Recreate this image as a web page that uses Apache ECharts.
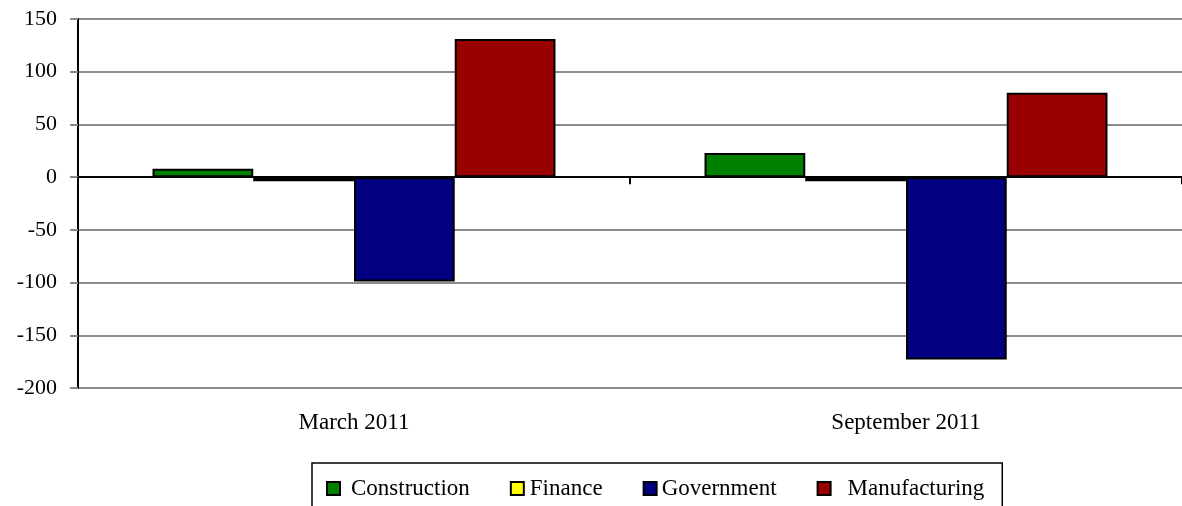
<!DOCTYPE html>
<html>
<head>
<meta charset="utf-8">
<script src="https://cdn.jsdelivr.net/npm/echarts@6/dist/echarts.min.js"></script>
<style>html,body{margin:0;padding:0;background:#fff}#c{width:1182px;height:506px}</style>
</head>
<body>
<div id="c"></div>
<script>
const categories = ['March 2011', 'September 2011'];
const construction = [8, 23];
const finance = [-4, -4];
const government = [-99, -173];
const manufacturing = [131, 80];
const seriesNames = ['Construction', 'Finance', 'Government', 'Manufacturing'];
const colors = ['#008000', '#FFFF00', '#000080', '#990000'];
const yTicks = { min: -200, max: 150, interval: 50 };

const font = 'Liberation Serif';
const chart = echarts.init(document.getElementById('c'));
const dataSets = [construction, finance, government, manufacturing];
const legendTextPad = [6, 1, 0, 12];
chart.setOption({
  animation: false,
  backgroundColor: '#fff',
  grid: { left: 78, right: 0, top: 19, bottom: 118, containLabel: false },
  legend: {
    data: seriesNames.map((n, i) => ({
      name: n,
      textStyle: { padding: [0, 0, 0, legendTextPad[i]] }
    })),
    left: 312,
    top: 463,
    orient: 'horizontal',
    padding: [14, 18, 40, 14],
    borderColor: '#000',
    borderWidth: 1.5,
    itemWidth: 13,
    itemHeight: 13,
    itemGap: 40,
    icon: 'rect',
    textStyle: { fontFamily: font, fontSize: 23, color: '#000' }
  },
  xAxis: [
    {
      type: 'category', data: categories,
      axisLine: { onZero: true, lineStyle: { color: '#000', width: 2 } },
      axisTick: { show: true, length: 7, lineStyle: { color: '#000', width: 2 } },
      axisLabel: { show: false },
      splitLine: { show: false }
    },
    {
      type: 'category', data: categories, position: 'bottom',
      axisLine: { show: false, onZero: false },
      axisTick: { show: false },
      axisLabel: { show: true, margin: 23, fontFamily: font, fontSize: 23, color: '#000' }
    }
  ],
  yAxis: {
    type: 'value', min: yTicks.min, max: yTicks.max, interval: yTicks.interval,
    axisLine: { show: true, onZero: false, lineStyle: { color: '#000', width: 2 } },
    axisTick: { show: true, length: 8, lineStyle: { color: '#888', width: 2 } },
    axisLabel: { margin: 21, fontFamily: font, fontSize: 22, color: '#000' },
    splitLine: { show: true, lineStyle: { color: '#8c8c8c', width: 2 } }
  },
  series: seriesNames.map((n, i) => ({
    name: n, type: 'bar', xAxisIndex: 0, data: dataSets[i],
    barGap: '0%', barCategoryGap: '27%',
    itemStyle: { color: colors[i], borderColor: '#000', borderWidth: 2 }
  }))
});
</script>
</body>
</html>
